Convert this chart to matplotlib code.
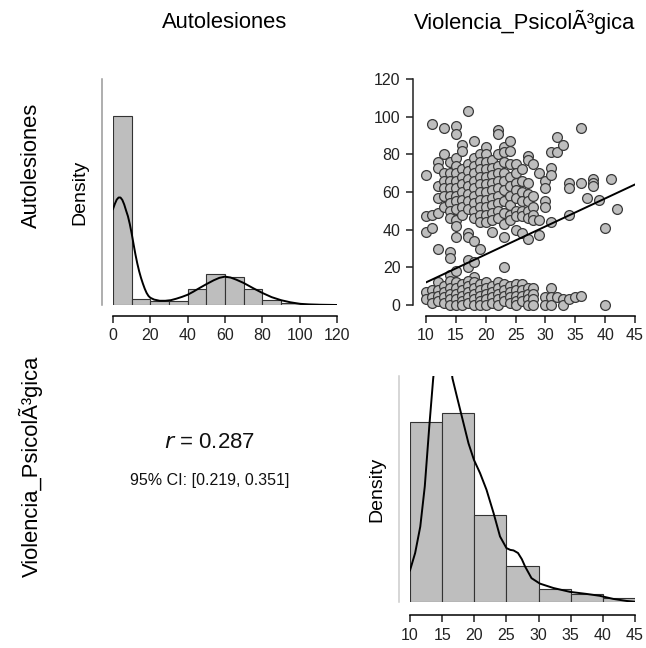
import numpy as np
import matplotlib
matplotlib.use("Agg")
from matplotlib import pyplot as plt

plt.rcParams['font.family'] = ['Liberation Sans', 'DejaVu Sans']

W, H = 646, 648

# Autolesiones histogram (bins of width 10) and its density curve
auto_edges = [0, 10, 20, 30, 40, 50, 60, 70, 80, 90, 100, 110, 120]
auto_counts = [313, 10, 7, 7, 26, 51, 46, 26, 9, 4, 1, 0]
auto_curve_x = [0, 1, 2, 3, 4, 5, 6, 7, 8, 9, 10, 11, 12, 13, 14, 15, 16, 17, 18, 19,
                20, 22, 25, 28, 31, 34, 37, 40, 43, 46, 50, 54, 57, 60, 63, 66, 70,
                75, 80, 85, 90, 95, 100, 105, 110, 120]
auto_curve_y = [0.0318, 0.0335, 0.0349, 0.0356, 0.0356, 0.0348, 0.0333, 0.0313, 0.0294,
                0.0268, 0.0237, 0.0202, 0.0168, 0.0138, 0.0112, 0.0090, 0.0071, 0.0054,
                0.0040, 0.0030, 0.0024, 0.0018, 0.0014, 0.0014, 0.0016, 0.0021, 0.0027,
                0.0034, 0.0044, 0.0055, 0.0069, 0.0082, 0.0090, 0.0094, 0.0091, 0.0084,
                0.0073, 0.0056, 0.0040, 0.0026, 0.0016, 0.0009, 0.0004, 0.0002, 0.0001,
                0.0]

# Violencia histogram (bins of width 5) and its density curve
viol_edges = [10, 15, 20, 25, 30, 35, 40, 45]
viol_counts = [174, 182, 84, 35, 13, 8, 4]
viol_curve_x = [10, 10.8, 11.6, 12.3, 13.0, 13.6, 14.3, 15.0, 15.8, 16.6, 17.3, 18.0,
                19.1, 19.95, 20.9, 21.9, 23.0, 24.0, 25.0, 25.6, 26.1, 26.8, 27.4,
                27.9, 28.9, 30.2, 32.3, 34.9, 37.5, 39.5, 41.6, 43.7, 45]
viol_curve_y = [0.0122, 0.0189, 0.0291, 0.0446, 0.0677, 0.0860, 0.1030, 0.1100, 0.1030,
                0.0863, 0.0792, 0.0722, 0.0612, 0.0548, 0.0497, 0.0433, 0.0343, 0.0253,
                0.0208, 0.0201, 0.0199, 0.0189, 0.0165, 0.0137, 0.0092, 0.0071,
                0.0054, 0.0039, 0.0031, 0.0024, 0.0012, 0.0004, 0.0001]

# scatter values, grouped by Violencia score (x) -> Autolesiones scores (y)
upper_points = {
    10: [69, 47, 39], 11: [96, 48, 41], 12: [76, 73, 63, 57, 49, 30],
    13: [94, 80, 70, 66, 62, 58, 52],
    14: [76, 70, 66, 62, 58, 54, 50, 46, 28, 25, 16],
    15: [95, 91, 78, 74, 70, 66, 62, 58, 55, 51, 45, 42, 36, 18],
    16: [85, 82, 72, 68, 64, 60, 56, 52, 48],
    17: [103, 75, 71, 67, 63, 59, 55, 51, 38, 36, 24, 20],
    18: [87, 78, 74, 70, 66, 62, 58, 54, 50, 46, 34, 23, 15],
    19: [80, 76, 72, 68, 64, 60, 56, 52, 48, 44, 30],
    20: [84, 80, 76, 72, 68, 64, 60, 56, 52, 48, 44],
    21: [77, 73, 69, 65, 61, 57, 53, 49, 45, 39],
    22: [93, 91, 80, 74, 70, 66, 62, 58, 54, 50, 46],
    23: [84, 81, 76, 70, 66, 61, 55, 49, 43, 36, 20],
    24: [87, 82, 75, 68, 63, 58, 53, 48, 45],
    25: [75, 70, 65, 61, 57, 50, 47, 40],
    26: [72, 66, 60, 55, 50, 47, 38],
    27: [79, 77, 65, 59, 55, 50, 46, 35],
    28: [75, 58, 52, 48, 45], 29: [70, 45, 37], 30: [66, 62, 55, 52],
    31: [81, 73, 69, 44], 32: [89, 81], 33: [85], 34: [65, 62, 48],
    36: [94, 65], 37: [57], 38: [67, 65, 63], 39: [56], 40: [41], 41: [67], 42: [51],
}
lower_points = {
    10: [7, 3], 11: [8, 4, 1], 12: [12, 8, 5, 2], 13: [10, 7, 4, 1],
    14: [13, 9, 6, 3, 0], 15: [12, 9, 6, 3, 0], 16: [11, 8, 5, 2, 0],
    17: [13, 10, 7, 4, 1], 18: [12, 9, 6, 3, 0], 19: [11, 8, 5, 2, 0],
    20: [12, 9, 6, 3, 0], 21: [10, 7, 4, 1], 22: [12, 9, 6, 3, 0],
    23: [11, 8, 5, 2], 24: [10, 7, 4, 1], 25: [11, 8, 5, 2, 0],
    26: [11, 8, 5, 2], 27: [9, 6, 3, 0], 28: [9, 6, 3, 0],
    30: [4, 0], 31: [9, 4, 0], 32: [4], 33: [3, 0], 34: [3], 35: [4], 36: [5], 40: [0],
}

fit_x = [10, 45]
fit_y = [12, 64]

r_value = 0.287
ci_low, ci_high = 0.219, 0.351

var_names = ["Autolesiones", "Violencia_PsicolÃ³gica"]

BAR_FILL = '#bebebe'
EDGE = '#333333'


def px_axes(fig, left, right, top, bottom):
    return fig.add_axes([left / W, 1 - bottom / H, (right - left) / W, (bottom - top) / H])


def pt(px):
    return px * 72 / 100


def style_axis(ax, xticks, left_off, bottom_off, left_color='#999999', show_yticks=False):
    ax.spines['top'].set_visible(False)
    ax.spines['right'].set_visible(False)
    ax.spines['bottom'].set_position(('outward', pt(bottom_off)))
    ax.spines['left'].set_position(('outward', pt(left_off)))
    ax.spines['bottom'].set_bounds(xticks[0], xticks[-1])
    ax.spines['bottom'].set_linewidth(1.1)
    ax.spines['left'].set_linewidth(1.1)
    ax.spines['left'].set_color(left_color)
    ax.set_xticks(xticks)
    ax.tick_params(axis='x', length=5, width=1.1, pad=4, labelsize=11.5, colors='#222222')
    if not show_yticks:
        ax.set_yticks([])
    ax.patch.set_visible(False)


def draw_hist(ax, edges, counts, curve_x, curve_y, top_ratio):
    edges = np.array(edges, dtype=float)
    counts = np.array(counts, dtype=float)
    widths = np.diff(edges)
    dens = counts / (counts.sum() * widths)
    ax.bar(edges[:-1], dens, width=widths, align='edge', color=BAR_FILL,
           edgecolor=EDGE, linewidth=0.8)
    ax.plot(curve_x, curve_y, color='black', lw=1.4, solid_joinstyle='round')
    ax.set_xlim(edges[0], edges[-1])
    ax.set_ylim(0, dens.max() * top_ratio)


fig = plt.figure(figsize=(W / 100, H / 100), dpi=100)

# top-left: Autolesiones distribution
ax1 = px_axes(fig, 113, 337, 79, 305)
draw_hist(ax1, auto_edges, auto_counts, auto_curve_x, auto_curve_y, 226 / 189)
style_axis(ax1, [0, 20, 40, 60, 80, 100, 120], 11, 11, left_color='#999999')
ax1.set_ylabel("Density", fontsize=14, labelpad=10)

# top-right: scatter with fitted line
ax2 = px_axes(fig, 426, 635, 79, 305)
xs, ys = [], []
for group in (upper_points, lower_points):
    for x, vals in group.items():
        xs.extend([x] * len(vals))
        ys.extend(vals)
ax2.scatter(xs, ys, s=50, facecolor=BAR_FILL, edgecolor='#3a3a3a', linewidth=0.9,
            clip_on=False, zorder=2)
ax2.plot(fit_x, fit_y, color='black', lw=1.4, zorder=3)
ax2.set_xlim(10, 45)
ax2.set_ylim(0, 120)
style_axis(ax2, [10, 15, 20, 25, 30, 35, 40, 45], 13, 11, left_color='#222222',
           show_yticks=True)
ax2.spines['left'].set_bounds(0, 120)
ax2.set_yticks([0, 20, 40, 60, 80, 100, 120])
ax2.tick_params(axis='y', length=5, width=1.1, pad=4, labelsize=11.5, colors='#222222')

# bottom-right: Violencia distribution
ax3 = px_axes(fig, 410, 635, 376, 602)
draw_hist(ax3, viol_edges, viol_counts, viol_curve_x, viol_curve_y, 679 / 567)
style_axis(ax3, [10, 15, 20, 25, 30, 35, 40, 45], 11, 13, left_color='#cccccc')
ax3.set_ylabel("Density", fontsize=14, labelpad=10)

# bottom-left: correlation text
fig.text(210 / W, 1 - 442 / H, f"$r$ = {r_value:.3f}", fontsize=16,
         ha='center', va='center', color='#111111')
fig.text(210 / W, 1 - 480 / H, f"95% CI: [{ci_low:.3f}, {ci_high:.3f}]",
         fontsize=11.5, ha='center', va='center', color='#111111')

# variable names along the top and the left
fig.text(225 / W, 1 - 22 / H, var_names[0], fontsize=15.8, ha='center', va='center')
fig.text(525 / W, 1 - 22 / H, var_names[1], fontsize=15.8, ha='center', va='center')
fig.text(31 / W, 1 - 165 / H, var_names[0], fontsize=15.8, ha='center', va='center',
         rotation=90)
fig.text(31 / W, 1 - 466 / H, var_names[1], fontsize=15.8, ha='center', va='center',
         rotation=90)

fig.savefig("out.png", dpi=100)
